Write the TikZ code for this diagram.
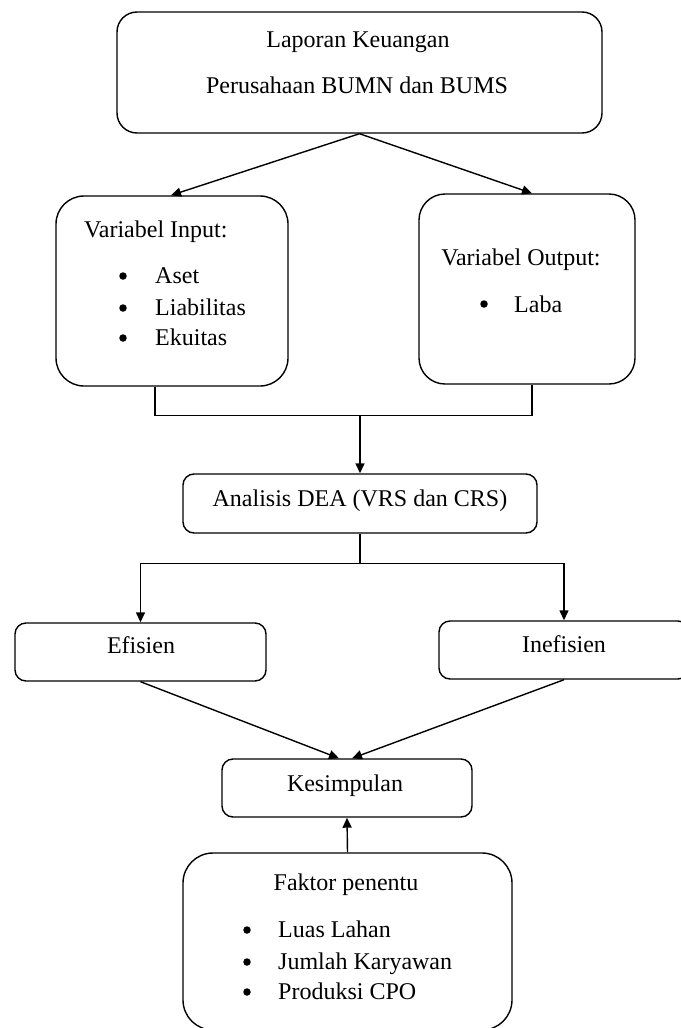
\documentclass[tikz,border=0pt]{standalone}
\usepackage{fontspec}
\setmainfont{Liberation Serif}
\usetikzlibrary{arrows.meta,calc}
\begin{document}
\begin{tikzpicture}[x=1pt,y=-1pt,
  box/.style={draw, line width=1.4pt, inner sep=0pt},
  txt/.style={inner sep=0pt, font=\fontsize{24}{28}\selectfont},
  dot/.style={circle, fill, inner sep=0pt, minimum size=7.5pt},
  conn/.style={line width=1.4pt},
  arr/.style={line width=1.4pt, -{Triangle[length=10pt,width=9pt]}}]
\useasboundingbox (0,0) rectangle (680,1028);
% boxes
\node[box, rounded corners=20pt, minimum width=485pt, minimum height=121pt] (top) at (359.5,72.5) {};
\node[box, rounded corners=28pt, minimum width=232pt, minimum height=190pt] (inp) at (172,291) {};
\node[box, rounded corners=26pt, minimum width=216pt, minimum height=190pt] (out) at (527,289) {};
\node[box, rounded corners=11pt, minimum width=354pt, minimum height=59pt] (dea) at (360,503.5) {};
\node[box, rounded corners=11pt, minimum width=251pt, minimum height=58pt] (ef) at (140.5,652) {};
\node[box, rounded corners=11pt, minimum width=250pt, minimum height=58pt] (inef) at (564,650) {};
\node[box, rounded corners=11pt, minimum width=250pt, minimum height=58pt] (kes) at (347,788) {};
\node[box, rounded corners=30pt, minimum width=329pt, minimum height=177pt] (fak) at (347.5,941.5) {};
% texts
\node[txt, anchor=base] (t1) at (358,47) {Laporan Keuangan};
\node[txt, anchor=base] (t2) at (357,93) {Perusahaan BUMN dan BUMS};
\node[txt, anchor=base west] (vi) at (84,237) {Variabel Input:};
\node[dot] (b1) at (123,276) {};
\node[txt, anchor=base west] (i1) at (155,283) {Aset};
\node[dot] (b2) at (123,308) {};
\node[txt, anchor=base west] (i2) at (155,315) {Liabilitas};
\node[dot] (b3) at (123,338) {};
\node[txt, anchor=base west] (i3) at (155,345) {Ekuitas};
\node[txt, anchor=base] (vo) at (521,265) {Variabel Output:};
\node[dot] (b4) at (484,304) {};
\node[txt, anchor=base west] (o1) at (514,312) {Laba};
\node[txt, anchor=base] (tdea) at (360,506) {Analisis DEA (VRS dan CRS)};
\node[txt, anchor=base] (tef) at (141,653) {Efisien};
\node[txt, anchor=base] (tinef) at (564,652) {Inefisien};
\node[txt, anchor=base] (tkes) at (345,791) {Kesimpulan};
\node[txt, anchor=base] (tfak) at (346,890) {Faktor penentu};
\node[dot] (b5) at (247,930) {};
\node[txt, anchor=base west] (f1) at (278,937) {Luas Lahan};
\node[dot] (b6) at (247,962) {};
\node[txt, anchor=base west] (f2) at (278,969) {Jumlah Karyawan};
\node[dot] (b7) at (247,992) {};
\node[txt, anchor=base west] (f3) at (278,999) {Produksi CPO};
% connectors
\draw[arr] (top.south) -- ([xshift=-1pt]inp.north);
\draw[arr] (top.south) -- ([xshift=5pt]out.north);
\draw[conn] ([xshift=-17pt]inp.south) -- ++(0,29) -| ([xshift=5pt]out.south);
\coordinate (j1) at (dea.north |- 0,415);
\draw[arr] (j1) -- (dea.north);
\coordinate (j2) at ($(dea.south)+(0,30)$);
\draw[conn] (dea.south) -- (j2);
\draw[arr] (j2) -| (ef.north);
\draw[arr] (j2) -| (inef.north);
\draw[arr] (ef.south) -- ([xshift=-8pt]kes.north);
\draw[arr] (inef.south) -- ([xshift=5pt]kes.north);
\draw[arr] (fak.north) -- (kes.south);
\end{tikzpicture}
\end{document}
